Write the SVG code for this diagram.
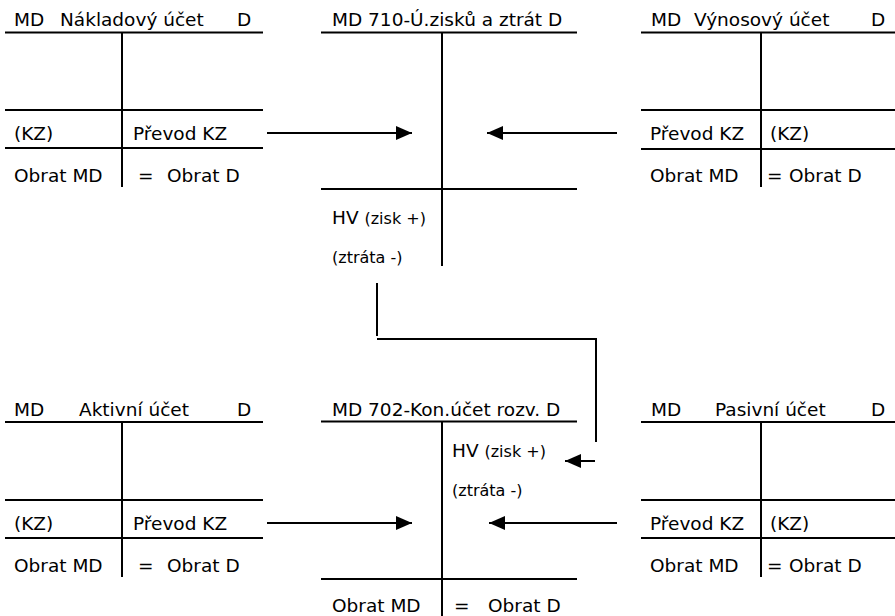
<svg xmlns="http://www.w3.org/2000/svg" width="895" height="616" viewBox="0 0 895 616">
<defs>
<style>
.t{font-family:"DejaVu Sans","Liberation Sans",sans-serif;font-size:18.5px;fill:#000}
.s{font-size:16px}
.ln{stroke:#000;stroke-width:2;fill:none}
</style>
<marker id="ah" markerUnits="userSpaceOnUse" markerWidth="16" markerHeight="14" refX="16" refY="7" orient="auto">
<path d="M0,0 L16,7 L0,14 Z" fill="#000"/>
</marker>
</defs>
<rect width="895" height="616" fill="#fff"/>

<g id="naklady">
<path class="ln" d="M5,32.5H263M122,32.5V187M5,110H263M5,148H263"/>
<text class="t" y="26"><tspan x="14">MD</tspan><tspan x="60">Nákladový účet</tspan><tspan x="237">D</tspan></text>
<text class="t" x="14" y="140">(KZ)</text>
<text class="t" x="133" y="140">Převod KZ</text>
<text class="t" x="14" y="182">Obrat MD</text>
<text class="t" y="182"><tspan x="138">=</tspan><tspan x="167">Obrat D</tspan></text>
</g>

<g id="ucet710">
<path class="ln" d="M321,32.5H577M442,32.5V266M321,189H577"/>
<text class="t" x="332" y="26">MD 710-Ú.zisků a ztrát D</text>
<text class="t" x="332" y="224">HV <tspan class="s">(zisk +)</tspan></text>
<text class="t s" x="332" y="263">(ztráta -)</text>
</g>

<g id="vynosy">
<path class="ln" d="M641,32.5H895M761,32.5V187M641,110H895M641,149H895"/>
<text class="t" y="26"><tspan x="651">MD</tspan><tspan x="694">Výnosový účet</tspan><tspan x="871">D</tspan></text>
<text class="t" x="650" y="140">Převod KZ</text>
<text class="t" x="770" y="140">(KZ)</text>
<text class="t" x="650" y="182">Obrat MD</text>
<text class="t" y="182"><tspan x="767">=</tspan><tspan x="789">Obrat D</tspan></text>
</g>

<g id="aktiva">
<path class="ln" d="M5,422H263M122,422V577M5,500H263M5,538H263"/>
<text class="t" y="416"><tspan x="14">MD</tspan><tspan x="79">Aktivní účet</tspan><tspan x="237">D</tspan></text>
<text class="t" x="14" y="530">(KZ)</text>
<text class="t" x="133" y="530">Převod KZ</text>
<text class="t" x="14" y="572">Obrat MD</text>
<text class="t" y="572"><tspan x="138">=</tspan><tspan x="167">Obrat D</tspan></text>
</g>

<g id="ucet702">
<path class="ln" d="M321,421.5H577M442,421.5V616M321,579H577"/>
<text class="t" x="332" y="416">MD 702-Kon.účet rozv. D</text>
<text class="t" x="452" y="457">HV <tspan class="s">(zisk +)</tspan></text>
<text class="t s" x="452" y="496">(ztráta -)</text>
<text class="t" x="332" y="612">Obrat MD</text>
<text class="t" y="612"><tspan x="454">=</tspan><tspan x="488">Obrat D</tspan></text>
</g>

<g id="pasiva">
<path class="ln" d="M641,422H895M761,422V577M641,500H895M641,538H895"/>
<text class="t" y="416"><tspan x="651">MD</tspan><tspan x="715">Pasivní účet</tspan><tspan x="871">D</tspan></text>
<text class="t" x="650" y="530">Převod KZ</text>
<text class="t" x="770" y="530">(KZ)</text>
<text class="t" x="650" y="572">Obrat MD</text>
<text class="t" y="572"><tspan x="767">=</tspan><tspan x="789">Obrat D</tspan></text>
</g>

<g id="connectors">
<line class="ln" x1="267" y1="133" x2="412" y2="133" marker-end="url(#ah)"/>
<line class="ln" x1="617" y1="133" x2="487" y2="133" marker-end="url(#ah)"/>
<line class="ln" x1="267" y1="523" x2="412" y2="523" marker-end="url(#ah)"/>
<line class="ln" x1="617" y1="523" x2="489" y2="523" marker-end="url(#ah)"/>
<path class="ln" d="M377,283V336M377,339H596M596,338V442"/>
<line class="ln" x1="595" y1="461" x2="565" y2="461" marker-end="url(#ah)"/>
</g>
</svg>
